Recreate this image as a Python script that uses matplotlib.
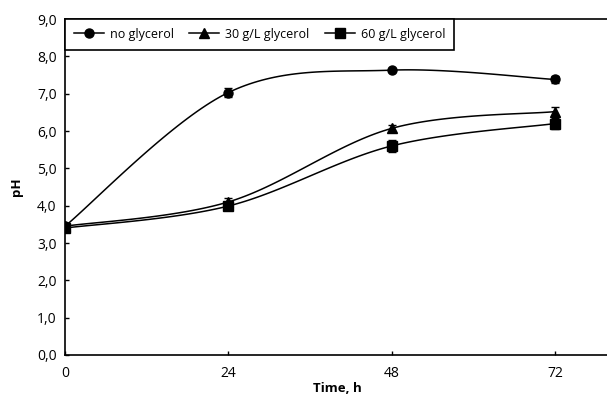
import numpy as np
import matplotlib
matplotlib.use("Agg")
import matplotlib.pyplot as plt
from matplotlib.ticker import FuncFormatter

plt.rcParams['font.family'] = ['Open Sans', 'DejaVu Sans']

time_h = [0, 24, 48, 72]
ph_none = [3.45, 7.03, 7.63, 7.38]
err_none = [0.05, 0.12, 0.03, 0.10]
ph_30 = [3.45, 4.10, 6.07, 6.52]
err_30 = [0.05, 0.10, 0.10, 0.13]
ph_60 = [3.40, 3.99, 5.60, 6.20]
err_60 = [0.05, 0.08, 0.15, 0.15]
labels = ['no glycerol', '30 g/L glycerol', '60 g/L glycerol']
markers = ['o', '^', 's']
xticks = [0, 24, 48, 72]
yticks = [0, 1, 2, 3, 4, 5, 6, 7, 8, 9]


def smooth(x, y, n=40):
    x = np.asarray(x, float)
    y = np.asarray(y, float)
    px = np.concatenate([[x[0]], x, [x[-1]]])
    py = np.concatenate([[y[0]], y, [y[-1]]])
    xs, ys = [], []
    for i in range(1, len(px) - 2):
        p0 = np.array([px[i - 1], py[i - 1]])
        p1 = np.array([px[i], py[i]])
        p2 = np.array([px[i + 1], py[i + 1]])
        p3 = np.array([px[i + 2], py[i + 2]])
        c1 = p1 + (p2 - p0) / 6
        c2 = p2 - (p3 - p1) / 6
        t = np.linspace(0, 1, n)[:, None]
        pts = ((1 - t) ** 3) * p1 + 3 * ((1 - t) ** 2) * t * c1 + 3 * (1 - t) * t ** 2 * c2 + t ** 3 * p2
        xs.extend(pts[:, 0])
        ys.extend(pts[:, 1])
    return xs, ys


fig = plt.figure(figsize=(6.07, 3.97), dpi=100)
ax = fig.add_axes([65 / 607, 1 - 355 / 397, 544.5 / 607, (355 - 19) / 397])

handles = []
for vals, errs, mk, lab in zip([ph_none, ph_30, ph_60], [err_none, err_30, err_60], markers, labels):
    sx, sy = smooth(time_h, vals)
    ax.plot(sx, sy, color='black', lw=1.1, zorder=2)
    ax.errorbar(time_h, vals, yerr=errs, fmt='none', ecolor='black', elinewidth=1, capsize=3, capthick=1, zorder=3)
    ax.plot(time_h, vals, linestyle='none', marker=mk, color='black', markersize=6.5, zorder=4)
    h, = ax.plot([], [], color='black', lw=1.1, marker=mk, markersize=6.5, label=lab)
    handles.append(h)

ax.set_xlim(0, 80)
ax.set_ylim(0, 9)
ax.set_xticks(xticks)
ax.set_yticks(yticks)
ax.yaxis.set_major_formatter(FuncFormatter(lambda v, p: f"{v:.1f}".replace('.', ',')))
ax.tick_params(direction='in', length=3, width=1, labelsize=10, colors='black')
ax.tick_params(axis='x', pad=8)
ax.tick_params(axis='y', pad=6)
for s in ['left', 'bottom', 'top']:
    ax.spines[s].set_linewidth(1.2)
ax.spines['right'].set_visible(False)
ax.set_xlabel('Time, h', fontsize=9.5, fontweight='bold', labelpad=1)
ax.set_ylabel('pH', fontsize=9.5, fontweight='bold', labelpad=10)

leg = ax.legend(handles=handles, loc='upper left', bbox_to_anchor=(0, 1), ncol=3, frameon=True,
                fancybox=False, edgecolor='black', framealpha=1, fontsize=9, borderaxespad=0,
                handlelength=2.4, columnspacing=1.2, borderpad=0.7, handletextpad=0.5)
leg.get_frame().set_linewidth(1.2)

fig.savefig('out.png', dpi=100)
